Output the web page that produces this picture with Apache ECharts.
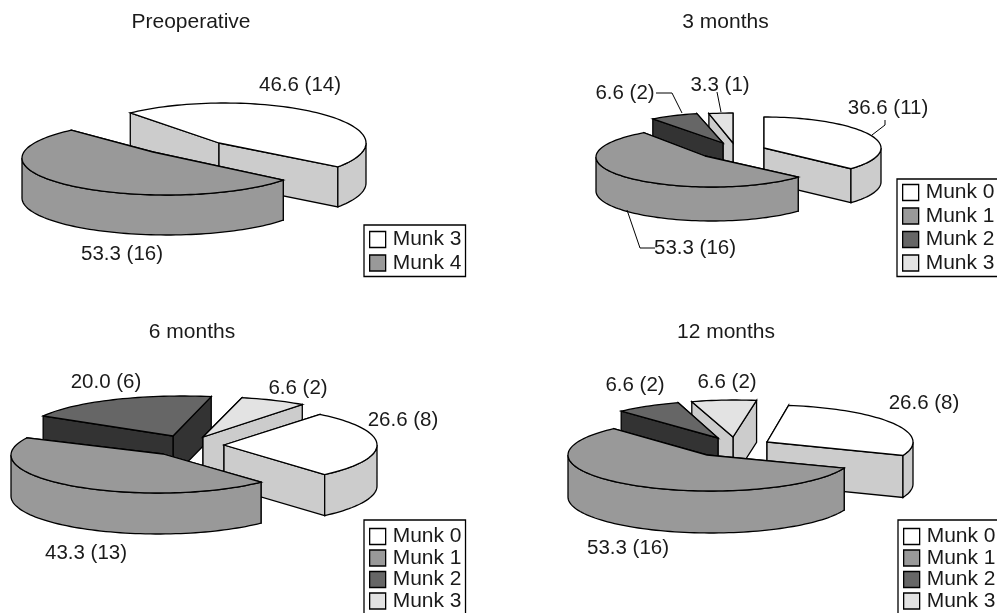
<!DOCTYPE html>
<html><head><meta charset="utf-8">
<style>html,body{margin:0;padding:0;background:#fff;overflow:hidden}#c{width:997px;height:613px}</style>
<script src="https://cdn.jsdelivr.net/npm/echarts@6/dist/echarts.min.js"></script>
</head><body><div id="c"></div>
<script>
// ---- data ----
const preopCategories = ['Munk 3','Munk 4'];
const preopCounts = [14,16];
const preopLabels = ['46.6 (14)','53.3 (16)'];
const m3Categories = ['Munk 0','Munk 1','Munk 2','Munk 3'];
const m3Counts = [11,16,2,1];
const m3Labels = ['36.6 (11)','53.3 (16)','6.6 (2)','3.3 (1)'];
const m6Categories = ['Munk 0','Munk 1','Munk 2','Munk 3'];
const m6Counts = [8,13,6,2];
const m6Labels = ['26.6 (8)','43.3 (13)','20.0 (6)','6.6 (2)'];
const m12Categories = ['Munk 0','Munk 1','Munk 2','Munk 3'];
const m12Counts = [8,16,2,2];
const m12Labels = ['26.6 (8)','53.3 (16)','6.6 (2)','6.6 (2)'];

// ---- styles ----
const FONT = '"Liberation Sans", Arial, sans-serif';
const TEXT_SIZE = 20.5;
const STYLE = {
  'Munk 0':{top:'#ffffff',wall:'#cccccc'},
  'Munk 1':{top:'#999999',wall:'#999999'},
  'Munk 2':{top:'#666666',wall:'#333333'},
  'Munk 3':{top:'#e3e3e3',wall:'#cccccc'}
};
const PRE_STYLE = {'Munk 3':{top:'#ffffff',wall:'#cccccc'},'Munk 4':{top:'#999999',wall:'#999999'}};

// ---- layout of each 3D pie (ellipse per exploded slice) ----
const charts = [
 {title:'Preoperative',tx:191,ty:22,cats:preopCategories,counts:preopCounts,labels:preopLabels,styles:PRE_STYLE,
  start:-41.3,depth:40,order:[0,1],legend:[364,225],gap:2.5,padTop:4,
  geo:[{c:[224,143],rx:142,ry:40,a:[219,143],rot:0},{c:[167,158],rx:145,ry:37,a:[153,152],rot:0}],
  lab:[[300,85],[122,254]],leaders:[]},
 {title:'3 months',tx:725.5,ty:22,cats:m3Categories,counts:m3Counts,labels:m3Labels,styles:STYLE,
  start:0,depth:34,order:[3,2,0,1],legend:[897,179],gap:2.5,padTop:3,
  geo:[{c:[764,148],rx:117,ry:31,a:[764,148],rot:0},{c:[712,157],rx:116,ry:30,a:[705,156],rot:0},
       {c:[721,144],rx:116,ry:31,a:[723,143],rot:0},{c:[733,144],rx:116,ry:31,a:[733,143],rot:0}],
  lab:[[888,108],[695,248],[625,93],[720,85]],
  leaders:[[[885,120],[885,125],[872,135]],[[627,210],[640,248],[655,248]],[[656,93],[672,93],[682,113]],[[717,92],[721,112]]]},
 {title:'6 months',tx:192,ty:332,cats:m6Categories,counts:m6Counts,labels:m6Labels,styles:STYLE,
  start:39.2,depth:41,order:[2,3,0,1],legend:[364,520],gap:0.5,padTop:6,
  geo:[{c:[222,445],rx:155,ry:39.5,a:[224,445],rot:0},{c:[158,455],rx:147,ry:38,a:[163,454],rot:-3},
       {c:[182,432],rx:155,ry:36,a:[173,436],rot:-3.5},{c:[213,437],rx:153,ry:40,a:[203,437],rot:-3.5}],
  lab:[[403,420],[86,553],[106,382],[298,388]],leaders:[]},
 {title:'12 months',tx:726,ty:332,cats:m12Categories,counts:m12Counts,labels:m12Labels,styles:STYLE,
  start:8.5,depth:42,order:[3,2,0,1],legend:[898,520],gap:0.5,padTop:6,
  geo:[{c:[767,442],rx:146,ry:37,a:[767,442],rot:0},{c:[711,455],rx:143,ry:36,a:[707,455],rot:0},
       {c:[722,439],rx:148,ry:38,a:[718,438],rot:0},{c:[735,437],rx:146,ry:37,a:[733,437],rot:0}],
  lab:[[924,403],[628,548],[635,385],[727,382]],leaders:[]}
];

const LINE = {stroke:'#000',lineWidth:1.3,lineJoin:'miter'};
function rim(g,deg,dy){const t=deg*Math.PI/180;return [g.c[0]+g.rx*Math.sin(t),g.c[1]-g.ry*Math.cos(t)+(dy||0)];}
function arc(g,a,b,dy){const p=[];const n=Math.max(2,Math.ceil((b-a)/2));for(let i=0;i<=n;i++)p.push(rim(g,a+(b-a)*i/n,dy));return p;}
function poly(points,fill){return {type:'polygon',shape:{points:points},style:Object.assign({fill:fill},LINE)};}

function makeRender(chart,idx){
  return function(params,api){
    const total = chart.counts.reduce((s,v)=>s+v,0);
    let before = 0; for(let i=0;i<idx;i++) before += chart.counts[i];
    const g = chart.geo[idx], st = chart.styles[chart.cats[idx]], d = chart.depth;
    const a0 = chart.start + g.rot + before/total*360;
    const a1 = a0 + api.value(0)/total*360;
    const kids = [];
    const walls = [a0,a1].map(an=>{const r=rim(g,an);return {y:(r[1]+g.a[1])/2,pts:[g.a,r,[r[0],r[1]+d],[g.a[0],g.a[1]+d]]};});
    walls.sort((p,q)=>p.y-q.y).forEach(w=>kids.push(poly(w.pts,st.wall)));
    for(let k=-1;k<=1;k++){
      const lo=Math.max(a0,90+360*k),hi=Math.min(a1,270+360*k);
      if(hi>lo){const top=arc(g,lo,hi,0),bot=arc(g,lo,hi,d).reverse();kids.push(poly(top.concat(bot),st.wall));}
    }
    kids.push(poly([g.a].concat(arc(g,a0,a1,0)),st.top));
    if(chart.leaders[idx]) kids.push({type:'polyline',shape:{points:chart.leaders[idx]},style:{stroke:'#000',lineWidth:1,fill:null}});
    const L = chart.lab[idx];
    kids.push({type:'text',x:L[0],y:L[1],style:{text:chart.labels[idx],fill:'#1a1a1a',font:TEXT_SIZE+'px '+FONT,align:'center',verticalAlign:'middle'}});
    return {type:'group',children:kids};
  };
}

const series = [], legends = [], titles = [];
charts.forEach((ch,ci)=>{
  ch.order.forEach(i=>{
    series.push({type:'custom',coordinateSystem:'none',name:ch.cats[i],silent:true,animation:false,
      data:[[ch.counts[i]]],renderItem:makeRender(ch,i)});
  });
  titles.push({text:ch.title,left:ch.tx,top:ch.ty,textAlign:'center',textVerticalAlign:'middle',
    textStyle:{fontFamily:FONT,fontSize:21,fontWeight:'normal',color:'#1a1a1a'},padding:0});
  legends.push({orient:'vertical',left:ch.legend[0],top:ch.legend[1],height:110,width:110,align:'left',
    selectedMode:false,itemWidth:16,itemHeight:16,itemGap:ch.gap,padding:[ch.padTop,4,3,5],borderColor:'#000',borderWidth:1.3,backgroundColor:'#fff',
    textStyle:{fontFamily:FONT,fontSize:21,color:'#1a1a1a',padding:[0,0,0,2]},
    data:ch.cats.map(n=>({name:n,icon:'rect',itemStyle:{color:ch.styles[n].top,borderColor:'#000',borderWidth:1.3}}))});
});

const chart = echarts.init(document.getElementById('c'),null,{width:997,height:613});
chart.setOption({animation:false,backgroundColor:'#fff',title:titles,legend:legends,series:series});
</script></body></html>
